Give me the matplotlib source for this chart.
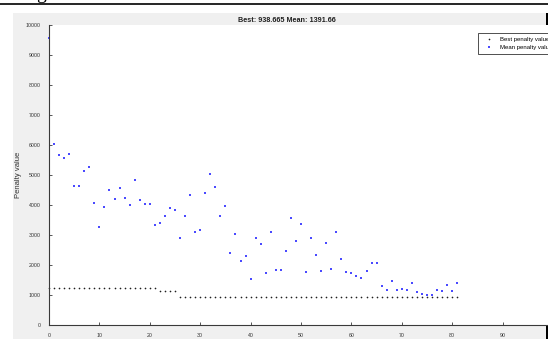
import numpy as np
import matplotlib
matplotlib.use("Agg")
import matplotlib.pyplot as plt
from matplotlib.patches import Rectangle
from matplotlib.lines import Line2D

# Genetic algorithm progress: best and mean penalty per generation
generations = list(range(0, 82))
best_penalty = [1225.0] * 22 + [1150.0] * 4 + [938.665] * 56
mean_penalty = [
    9567, 6033, 5677, 5556, 5711, 4633, 4644, 5144, 5256, 4067,
    3267, 3944, 4500, 4200, 4567, 4244, 4000, 4833, 4178, 4033,
    4044, 3322, 3389, 3622, 3889, 3822, 2900, 3633, 4322, 3089,
    3167, 4411, 5033, 4600, 3644, 3967, 2411, 3044, 2144, 2289,
    1533, 2911, 2711, 1733, 3100, 1833, 1844, 2456, 3567, 2800,
    3367, 1778, 2911, 2344, 1800, 2744, 1856, 3100, 2200, 1767,
    1722, 1644, 1578, 1800, 2078, 2078, 1289, 1167, 1467, 1156,
    1200, 1167, 1400, 1111, 1044, 1000, 1000, 1178, 1144, 1322,
    1133, 1391.66,
]
x_ticks = list(range(0, 91, 10))
y_ticks = list(range(0, 10001, 1000))
title_text = "Best: %.3f Mean: %.2f" % (best_penalty[-1], mean_penalty[-1])

W, H = 548, 339
fig = plt.figure(figsize=(W / 100, H / 100), dpi=100, facecolor="white")
plt.rcParams["font.family"] = ["Liberation Sans", "DejaVu Sans"]

# window background and frame pieces
fig.patches.append(Rectangle((13 / W, 0), 1, (H - 13) / H, transform=fig.transFigure,
                             facecolor="#f0f0f0", edgecolor="none", zorder=-10))
fig.patches.append(Rectangle((545.5 / W, 0), 3 / W, (H - 13) / H, transform=fig.transFigure,
                             facecolor="black", edgecolor="none", zorder=-5))
fig.lines.append(Line2D([0, 1], [1 - 3.5 / H, 1 - 3.5 / H], transform=fig.transFigure,
                        color="black", lw=1.2))
fig.text(41 / W, 1 + 1 / H, "g", family="Liberation Serif", fontsize=14,
         ha="center", va="baseline", color="black")

ax = fig.add_axes([49 / W, (H - 325) / H, 504 / W, 300 / H])
ax.set_facecolor("white")

ax.plot(generations, best_penalty, linestyle="none", marker="o", markersize=1.2,
        markeredgewidth=0, color="#202020", label="Best penalty value", clip_on=False)
ax.plot(generations, mean_penalty, linestyle="none", marker="s", markersize=1.5,
        markeredgewidth=0, color="#4a4aff", label="Mean penalty value", clip_on=False)

ax.set_xlim(0, 100)
ax.set_ylim(0, 10000)
ax.set_xticks(x_ticks)
ax.set_yticks(y_ticks)
for s in ["top", "right"]:
    ax.spines[s].set_visible(False)
for s in ["left", "bottom"]:
    ax.spines[s].set_color("#3a3a3a")
    ax.spines[s].set_linewidth(0.8)
ax.tick_params(direction="in", length=2.5, width=0.6, color="#3a3a3a",
               labelsize=3.8, labelcolor="#333333", pad=6)

ax.set_ylabel("Penalty value", fontsize=5.5, color="#303030", labelpad=3)
fig.text(286.5 / W, 1 - 21 / H, title_text, fontsize=5.2, fontweight="bold",
         ha="center", va="center", color="#202020")

leg = ax.legend(loc="upper left", bbox_to_anchor=(478 / W, 1 - 33 / H),
                bbox_transform=fig.transFigure, fontsize=4.3, frameon=True,
                fancybox=False, edgecolor="black", borderpad=0.6, handlelength=2.6,
                handletextpad=0.45, labelspacing=0.5, borderaxespad=0, markerscale=1.0)
leg.get_frame().set_linewidth(0.6)

fig.savefig("out.png", dpi=100, facecolor="white")
